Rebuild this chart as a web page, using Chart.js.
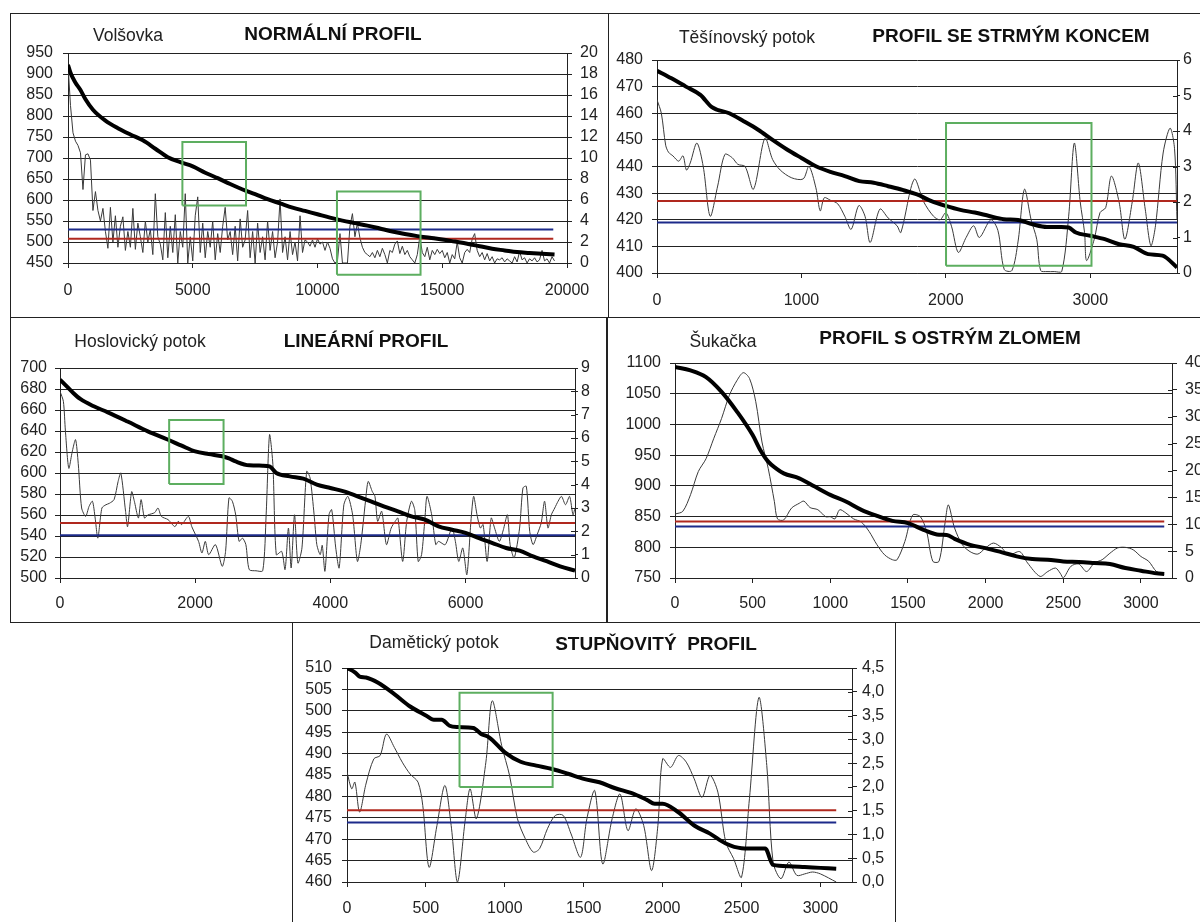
<!DOCTYPE html>
<html><head><meta charset="utf-8">
<script src="https://cdn.jsdelivr.net/npm/chart.js@4.4.1/dist/chart.umd.min.js"></script>
<style>
html,body{margin:0;padding:0;background:#fff;}
body{width:1200px;height:922px;overflow:hidden;position:relative;font-family:"Liberation Sans",Arial,sans-serif;}
.box{position:absolute;border:1px solid #222;box-sizing:border-box;}
canvas{position:absolute;}
.t{position:absolute;transform:translate(-50%,-50%);line-height:1;white-space:pre;}
.n{font-size:17.5px;color:#222;}
.b{font-size:19px;font-weight:bold;color:#111;}
</style></head><body>
<div class="box" style="left:10px;top:13px;width:599px;height:305px"></div>
<div class="box" style="left:608px;top:13px;width:600px;height:305px"></div>
<div class="box" style="left:10px;top:317px;width:598px;height:306px"></div>
<div class="box" style="left:606px;top:317px;width:600px;height:306px"></div>
<div class="box" style="left:292px;top:622px;width:604px;height:310px"></div>

<canvas id="c1" width="597" height="304" style="left:11px;top:13px"></canvas>
<canvas id="c2" width="592" height="304" style="left:608px;top:13px"></canvas>
<canvas id="c3" width="596" height="305" style="left:11px;top:317px"></canvas>
<canvas id="c4" width="593" height="305" style="left:607px;top:317px"></canvas>
<canvas id="c5" width="603" height="300" style="left:292px;top:622px"></canvas>

<div class="t n" style="left:128px;top:36px">Volšovka</div>
<div class="t b" style="left:333px;top:33px">NORMÁLNÍ PROFIL</div>
<div class="t n" style="left:747px;top:38px">Těšínovský potok</div>
<div class="t b" style="left:1011px;top:35px">PROFIL SE STRMÝM KONCEM</div>
<div class="t n" style="left:140px;top:342px">Hoslovický potok</div>
<div class="t b" style="left:366px;top:340px">LINEÁRNÍ PROFIL</div>
<div class="t n" style="left:723px;top:342px">Šukačka</div>
<div class="t b" style="left:950px;top:337px">PROFIL S OSTRÝM ZLOMEM</div>
<div class="t n" style="left:434px;top:643px">Damětický potok</div>
<div class="t b" style="left:656px;top:643px">STUPŇOVITÝ  PROFIL</div>

<script>
// ---------- Panel 1: Volšovka ----------
const p1XTicks = [0,5000,10000,15000,20000];
const p1YTicks = [450,500,550,600,650,700,750,800,850,900,950];
const p1RTicks = [0,2,4,6,8,10,12,14,16,18,20];
const p1ElevX = [0,100,200,300,500,700,1000,1500,2000,2500,3000,3500,4000,4500,5000,5500,6000,6500,7000,7500,8000,8500,9000,9500,10000,10500,11000,11500,12000,12500,13000,13500,14000,14500,15000,15500,16000,16500,17000,17500,18000,18500,19000,19500];
const p1Elev = [922,903,890,879,862,840,815,789,771,756,742,722,702,690,680,665,652,638,625,614,602,592,582,574,566,558,551,545,539,532,525,519,514,510,506,501,496,490,484,480,476,474,472,470];
const p1SlopeX = [0,100,200,300,400,500,600,700,800,900,1000,1100,1200,1300,1400,1500,1600,1700,1800,1900,2000,2100,2200,2300,2400,2500,2600,2700,2800,2900,3000,3100,3200,3300,3400,3500,3600,3700,3800,3900,4000,4100,4200,4300,4400,4500,4600,4700,4800,4900,5000,5100,5200,5300,5400,5500,5600,5700,5800,5900,6000,6100,6200,6300,6400,6500,6600,6700,6800,6900,7000,7100,7200,7300,7400,7500,7600,7700,7800,7900,8000,8100,8200,8300,8400,8500,8600,8700,8800,8900,9000,9100,9200,9300,9400,9500,9600,9700,9800,9900,10000,10100,10200,10300,10400,10500,10600,10700,10800,10900,11000,11100,11200,11300,11400,11500,11600,11700,11800,11900,12000,12100,12200,12300,12400,12500,12600,12700,12800,12900,13000,13100,13200,13300,13400,13500,13600,13700,13800,13900,14000,14100,14200,14300,14400,14500,14600,14700,14800,14900,15000,15100,15200,15300,15400,15500,15600,15700,15800,15900,16000,16100,16200,16300,16400,16500,16600,16700,16800,16900,17000,17100,17200,17300,17400,17500,17600,17700,17800,17900,18000,18100,18200,18300,18400,18500,18600,18700,18800,18900,19000,19100,19200,19300,19400,19500];
const p1Slope = [18.9,15,12.4,11.6,11.2,10.5,7.0,10.3,10.4,9.8,
5.0,6.8,5.0,4.0,5.2,3.0,1.4,5.3,2.0,4.5,
1.5,3.5,4.4,1.2,3.0,1.5,5.2,1.3,3.8,2.5,
1.0,4.0,2.0,3.2,0.8,6.6,2.5,1.8,0.3,4.8,
0.5,3.5,1.0,4.6,0.0,3.0,1.5,6.6,0.0,2.5,
0.2,4.5,6.3,1.0,3.8,0.5,3.0,1.5,4.0,0.3,
2.8,1.0,3.5,5.3,2.2,3.0,0.8,3.5,0.2,4.2,
1.5,2.2,5.0,0.5,3.0,0.0,3.8,1.0,2.5,0.3,
4.0,1.2,3.0,0.5,2.0,6.1,1.0,2.5,0.3,3.0,
0.8,2.0,0.2,4.5,1.0,2.2,2.0,1.6,2.2,1.5,
2.3,1.8,2.0,1.2,2.0,1.4,0.4,0.0,0.2,2.8,
0.0,0.0,0.0,3.5,4.7,2.5,3.8,2.4,1.5,1.0,
0.8,0.6,1.0,0.5,1.2,0.6,1.4,0.8,0.0,1.2,
1.0,1.8,2.1,0.9,1.6,0.8,1.2,0.6,0.3,0.0,
0.8,2.5,1.0,0.6,1.5,0.3,1.2,0.8,1.3,0.9,
1.2,0.5,1.0,0.0,0.8,0.4,2.0,0.5,0.0,1.0,
1.3,1.0,2.3,2.8,1.2,0.6,1.0,0.3,0.9,0.2,
0.6,0.0,0.4,0.3,0.5,0.1,0.4,0.2,0.0,0.6,
0.1,1.1,0.3,0.5,0.0,0.4,0.2,0.5,0.1,0.3,
1.2,0.2,0.4,0.0,0.6,0.2];
const p1AvgX = [0,19450];
const p1Red = 2.3;
const p1Blue = 3.2;
const p1Boxes = [[[4585,7135],[587,738]],[[10780,14130],[422,620]]];

// ---------- Panel 2: Těšínovský potok ----------
const p2XTicks = [0,1000,2000,3000];
const p2YTicks = [400,410,420,430,440,450,460,470,480];
const p2RTicks = [0,1,2,3,4,5,6];
const p2ElevX = [0,100,200,300,380,500,600,700,800,900,1000,1100,1200,1300,1400,1500,1600,1700,1800,1900,2000,2100,2200,2300,2400,2500,2600,2700,2800,2850,2900,3000,3100,3200,3300,3400,3500,3600];
const p2Elev = [476,473.1,470,466.9,462.3,460,457,453.8,450,446.4,443.2,440.1,438,436.4,434.5,433.9,432.6,431.2,429.5,427,425.2,423.7,422.7,421.4,420.2,419.9,418.3,417.3,417.3,417.1,415.2,414,412.7,410.8,409.8,407.1,406.5,402.1];
const p2SlopeX = [0,30,60,80,110,150,180,204,230,276,320,368,420,470,520,560,610,668,747,800,853,933,1012,1052,1100,1130,1158,1200,1251,1300,1344,1397,1440,1476,1543,1600,1662,1688,1781,1847,1914,1960,2000,2040,2086,2140,2192,2232,2311,2360,2404,2457,2500,2544,2590,2629,2656,2700,2750,2802,2850,2889,2930,2960,2974,3027,3067,3106,3146,3199,3239,3290,3332,3380,3419,3451,3504,3552,3583,3600];
const p2Slope = [4.88,4.5,3.6,3.4,3.3,3.15,3.3,2.9,3.1,3.66,3.0,1.6,2.45,3.34,3.25,3.06,3.0,2.36,3.8,3.2,2.9,2.68,2.65,3.0,2.4,1.75,2.12,2.05,1.95,1.6,1.23,1.9,1.6,0.86,1.8,1.55,1.33,1.14,2.64,2.0,1.6,1.5,1.7,1.3,0.58,1.0,1.33,1.0,1.5,1.2,0.1,0.07,0.9,2.36,1.5,0.95,0.07,0.04,0.04,0.04,1.6,3.66,2.0,1.14,0.35,0.95,1.7,1.84,2.73,2.0,0.95,2.0,3.1,1.8,0.77,1.33,3.38,4.08,3.5,1.5];
const p2AvgX = [0,3600];
const p2Red = 2.03;
const p2Blue = 1.42;
const p2Boxes = [[[2001,3008],[402.7,456.3]]];

// ---------- Panel 3: Hoslovický potok ----------
const p3XTicks = [0,2000,4000,6000];
const p3YTicks = [500,520,540,560,580,600,620,640,660,680,700];
const p3RTicks = [0,1,2,3,4,5,6,7,8,9];
const p3ElevX = [0,100,200,300,500,700,1000,1300,1600,1800,2000,2200,2400,2500,2600,2800,3000,3100,3200,3400,3600,3800,4000,4200,4400,4600,4800,5000,5200,5400,5600,5800,6000,6200,6400,6600,6800,7000,7200,7400,7620];
const p3Elev = [688.9,682.5,676,670.5,663.5,658,649,639.7,631.7,626,620.6,618,616,614,611,607.3,607,606.3,600,596.8,594.6,589,585.7,582.5,577.8,573,568,563.5,558.7,555.6,549.2,546,543,538,533.3,528.6,526,520.6,516,511,507];
const p3SlopeX = [0,50,80,130,180,230,270,320,380,430,480,520,560,620,680,730,800,860,900,970,1000,1060,1100,1160,1200,1250,1300,1400,1450,1500,1600,1700,1750,1800,1900,1950,2050,2100,2150,2200,2300,2400,2450,2500,2550,2600,2650,2700,2750,2800,2900,3000,3050,3100,3150,3200,3280,3330,3380,3420,3470,3520,3580,3650,3700,3760,3800,3850,3880,3920,3980,4020,4080,4130,4200,4260,4330,4400,4450,4520,4560,4620,4660,4700,4760,4830,4900,4960,5000,5070,5130,5200,5250,5300,5350,5400,5430,5500,5560,5600,5700,5800,5850,5900,5960,6020,6080,6120,6170,6220,6260,6320,6380,6430,6500,6560,6620,6660,6720,6800,6850,6900,6950,7000,7060,7120,7170,7220,7270,7320,7370,7420,7480,7540,7590,7620];
const p3Slope = [8.0,7.57,6.3,4.7,5.4,5.93,4.9,3.0,2.64,3.07,3.29,2.57,1.71,3.0,3.14,3.2,3.36,4.14,4.5,2.86,2.2,3.7,3.29,2.57,3.36,2.57,2.7,2.8,3.0,2.64,2.5,2.2,2.43,2.29,2.64,2.2,1.57,1.07,1.57,1.0,1.43,0.5,1.14,3.43,3.29,2.7,1.57,1.71,1.43,0.36,0.31,0.31,2.7,6.14,4.86,1.0,1.14,0.36,2.14,0.43,2.71,0.64,1.29,4.57,4.29,2.71,1.43,1.0,1.4,0.29,2.71,2.93,1.29,0.43,3.14,3.5,2.7,0.71,1.43,3.29,4.14,3.71,3.5,2.43,2.86,1.43,2.14,2.43,2.57,0.71,2.43,3.29,2.9,0.71,1.0,2.57,3.5,2.7,1.43,1.57,1.43,2.14,1.57,0.71,1.29,0.14,2.43,3.5,2.71,2.14,2.29,0.71,2.57,2.14,1.57,2.07,2.71,1.43,0.86,2.14,3.86,3.93,2.0,1.43,1.86,2.36,3.29,2.14,2.71,3.0,3.29,3.5,3.14,3.5,2.71,3.0];
const p3AvgX = [0,7620];
const p3Red = 2.36;
const p3Blue = 1.83;
const p3Boxes = [[[1615,2420],[589.5,650.5]]];

// ---------- Panel 4: Šukačka ----------
const p4XTicks = [0,500,1000,1500,2000,2500,3000];
const p4YTicks = [750,800,850,900,950,1000,1050,1100];
const p4RTicks = [0,5,10,15,20,25,30,35,40];
const p4ElevX = [0,100,200,300,400,500,550,600,650,700,800,900,1000,1100,1200,1300,1400,1500,1600,1700,1750,1800,1900,2000,2100,2200,2300,2400,2500,2600,2700,2800,2900,3000,3100,3150];
const p4Elev = [1093.5,1088,1077,1053,1020.5,982.6,958,939.4,928.6,920.4,912.3,898.8,885.3,874.5,861,851.2,843,839.3,828.5,820.4,820,813.8,804,798.7,792.2,785.2,780.8,779.7,777,776,774.4,772.7,766.2,761.9,757.6,756.5];
const p4SlopeX = [0,50,100,150,200,250,300,350,400,440,480,520,560,600,640,660,700,750,800,830,870,920,970,1000,1030,1060,1100,1150,1200,1250,1300,1350,1400,1430,1480,1530,1580,1620,1660,1700,1740,1760,1800,1850,1900,1950,2000,2050,2100,2150,2220,2270,2350,2400,2450,2480,2500,2550,2600,2650,2700,2750,2800,2850,2900,2950,3000,3050,3100,3150];
const p4Slope = [11.9,12.4,15.5,19.8,22.2,26,29.7,34,36.8,38.2,37.1,32.8,25.3,20.4,14.2,11,10.8,13,13.9,14.3,13.1,12.7,11.4,11.4,11,12.7,12.1,11,10.4,8.65,6.2,4.3,3.4,3.4,6.8,11.7,11.4,8.65,3.1,3.1,10.5,13.6,9.3,6.2,4.9,4.45,5.6,6.5,5.7,4.3,4.9,2.8,0.3,1.2,1.85,0.9,0,2.2,2.6,1.2,2.8,3.4,4.6,5.6,5.7,5.25,4.0,3.1,1.2,0.7];
const p4AvgX = [0,3150];
const p4Red = 10.5;
const p4Blue = 9.6;
const p4Boxes = [];

// ---------- Panel 5: Damětický potok ----------
const p5XTicks = [0,500,1000,1500,2000,2500,3000];
const p5YTicks = [460,465,470,475,480,485,490,495,500,505,510];
const p5RTicks = [0,0.5,1,1.5,2,2.5,3,3.5,4,4.5];
const p5ElevX = [0,50,80,120,200,300,400,500,550,600,650,700,800,850,900,1000,1100,1200,1300,1400,1500,1600,1700,1800,1900,1950,2000,2100,2200,2300,2400,2500,2600,2650,2700,2800,2900,3000,3100];
const p5Elev = [510,509,508,507.8,506.5,503.9,501,498.9,497.9,497.9,496.5,496.2,496,494.6,493.8,490.3,488.1,487.2,486.4,485.3,484.1,483.3,481.9,480.8,479.2,478.3,478.3,476.3,473.2,471.3,469,467.9,467.8,467.8,464,463.7,463.5,463.3,463.1];
const p5SlopeX = [0,30,50,80,120,170,210,250,300,350,400,450,480,520,570,620,660,700,750,780,820,880,920,980,1030,1080,1130,1180,1220,1270,1320,1370,1420,1480,1520,1570,1620,1680,1730,1780,1830,1880,1930,1970,2000,2050,2100,2150,2200,2250,2300,2350,2400,2450,2500,2550,2610,2660,2700,2750,2800,2850,2900,2950,3000,3100];
const p5Slope = [2.31,1.96,2.1,1.47,2.06,2.59,2.66,3.11,2.83,2.52,2.27,2.1,1.61,0.31,1.19,2.03,1.19,0,1.33,1.96,1.33,2.52,3.81,2.87,2.24,1.33,0.91,0.63,0.7,1.12,1.4,1.4,1.01,0.52,1.33,1.92,0.38,1.33,1.85,1.08,1.54,1.19,0.24,1.19,2.59,2.41,2.66,2.52,2.17,1.78,2.24,1.89,0.84,0.49,0.1,1.75,3.88,2.45,0.42,0.07,0.42,0.14,0.17,0.21,0.17,0];
const p5AvgX = [0,3100];
const p5Red = 1.51;
const p5Blue = 1.25;
const p5Boxes = [[[713,1303],[482.2,504.2]]];

// ---------- helpers ----------
function pts(xs, ys){ return xs.map((x,i)=>({x:x, y:ys[i]})); }
function hline(xr, v){ return [{x:xr[0],y:v},{x:xr[1],y:v}]; }
function rect(bx, by){ return [{x:bx[0],y:by[0]},{x:bx[1],y:by[0]},{x:bx[1],y:by[1]},{x:bx[0],y:by[1]},{x:bx[0],y:by[0]}]; }
function fixTicks(arr){ return function(s){ s.ticks = arr.map(v=>({value:v})); }; }

const FONT = {family:'"Liberation Sans", Arial, sans-serif', size:16};
const AX = '#222';

const crossTicks = {
  id:'crossTicks',
  afterDraw(chart, args, opts){
    if(!opts.on) return;
    const s = chart.scales.y1, ctx = chart.ctx;
    ctx.save(); ctx.strokeStyle = AX; ctx.lineWidth = 1;
    s.ticks.forEach(t=>{
      const y = Math.round(s.getPixelForValue(t.value)) + 0.5;
      ctx.beginPath(); ctx.moveTo(s.left - 4, y); ctx.lineTo(s.left, y); ctx.stroke();
    });
    ctx.restore();
  }
};

function build(id, o){
  const ds = [
    {data: pts(o.slopeX, o.slope), yAxisID:'y1', borderColor:'#3a3a3a', borderWidth:1, pointRadius:0, tension:o.tension, order:4},
    {data: hline(o.avgX, o.red), yAxisID:'y1', borderColor:'#b0281e', borderWidth:2, pointRadius:0, order:3},
    {data: hline(o.avgX, o.blue), yAxisID:'y1', borderColor:'#1c2a8a', borderWidth:2, pointRadius:0, order:2},
    {data: pts(o.elevX, o.elev), yAxisID:'y', borderColor:'#000', borderWidth:4, pointRadius:0, cubicInterpolationMode:'monotone', order:1}
  ];
  o.boxes.forEach(b=>ds.push({data: rect(b[0], b[1]), yAxisID:'y', borderColor:'#5dae60', borderWidth:2, pointRadius:0, clip:false, order:0}));
  new Chart(document.getElementById(id), {
    type:'line',
    data:{datasets: ds},
    plugins:[crossTicks],
    options:{
      responsive:false, animation:false, devicePixelRatio:1,
      layout:{padding:{top:o.padTop, left:0, right:0, bottom:0}},
      plugins:{legend:{display:false}, tooltip:{enabled:false}, crossTicks:{on:o.cross}},
      scales:{
        x:{type:'linear', min:0, max:o.xMax,
           afterBuildTicks: fixTicks(o.xTicks),
           ticks:{maxRotation:0, autoSkip:false, padding:o.xPad, color:AX, font:FONT, callback:v=>String(v)},
           grid:{drawOnChartArea:false, tickLength:5, color:AX}, border:{color:AX},
           afterFit(s){ s.height = o.bottomH; }},
        y:{type:'linear', position:'left', min:o.yTicks[0], max:o.yTicks[o.yTicks.length-1],
           afterBuildTicks: fixTicks(o.yTicks),
           ticks:{autoSkip:false, padding:o.yPad, color:AX, font:FONT, callback:v=>String(v)},
           grid:{color:AX, tickLength:5}, border:{color:AX},
           afterFit(s){ s.width = o.leftW; }},
        y1:{type:'linear', position:'right', min:o.rTicks[0], max:o.rTicks[o.rTicks.length-1],
           afterBuildTicks: fixTicks(o.rTicks),
           ticks:{autoSkip:false, padding:o.rPad, color:AX, font:FONT, callback:o.rFmt || (v=>String(v))},
           grid:{drawOnChartArea:false, tickLength:o.rTick, color:AX}, border:{color:AX},
           afterFit(s){ s.width = o.rightW; }}
      }
    }
  });
}

build('c1', {elevX:p1ElevX, elev:p1Elev, slopeX:p1SlopeX, slope:p1Slope, avgX:p1AvgX, red:p1Red, blue:p1Blue, boxes:p1Boxes,
  tension:0, xMax:20000, xTicks:p1XTicks, yTicks:p1YTicks, rTicks:p1RTicks,
  padTop:40, leftW:57, rightW:41, bottomH:54, xPad:13, yPad:10, rPad:8, rTick:5, cross:false});
build('c2', {elevX:p2ElevX, elev:p2Elev, slopeX:p2SlopeX, slope:p2Slope, avgX:p2AvgX, red:p2Red, blue:p2Blue, boxes:p2Boxes,
  tension:0.3, xMax:3600, xTicks:p2XTicks, yTicks:p2YTicks, rTicks:p2RTicks,
  padTop:47, leftW:49, rightW:23, bottomH:44, xPad:13, yPad:9, rPad:3, rTick:3, cross:true});
build('c3', {elevX:p3ElevX, elev:p3Elev, slopeX:p3SlopeX, slope:p3Slope, avgX:p3AvgX, red:p3Red, blue:p3Blue, boxes:p3Boxes,
  tension:0.25, xMax:7620, xTicks:p3XTicks, yTicks:p3YTicks, rTicks:p3RTicks,
  padTop:51, leftW:49, rightW:32, bottomH:44, xPad:11, yPad:8, rPad:3, rTick:3, cross:true});
build('c4', {elevX:p4ElevX, elev:p4Elev, slopeX:p4SlopeX, slope:p4Slope, avgX:p4AvgX, red:p4Red, blue:p4Blue, boxes:p4Boxes,
  tension:0.3, xMax:3200, xTicks:p4XTicks, yTicks:p4YTicks, rTicks:p4RTicks,
  padTop:46, leftW:68, rightW:28, bottomH:44, xPad:11, yPad:9, rPad:8, rTick:5, cross:true});
build('c5', {elevX:p5ElevX, elev:p5Elev, slopeX:p5SlopeX, slope:p5Slope, avgX:p5AvgX, red:p5Red, blue:p5Blue, boxes:p5Boxes,
  tension:0.3, xMax:3200, xTicks:p5XTicks, yTicks:p5YTicks, rTicks:p5RTicks,
  rFmt:v=>v.toFixed(1).replace('.', ','),
  padTop:46, leftW:55, rightW:43, bottomH:40, xPad:12, yPad:10, rPad:5, rTick:5, cross:true});
</script>
</body></html>
